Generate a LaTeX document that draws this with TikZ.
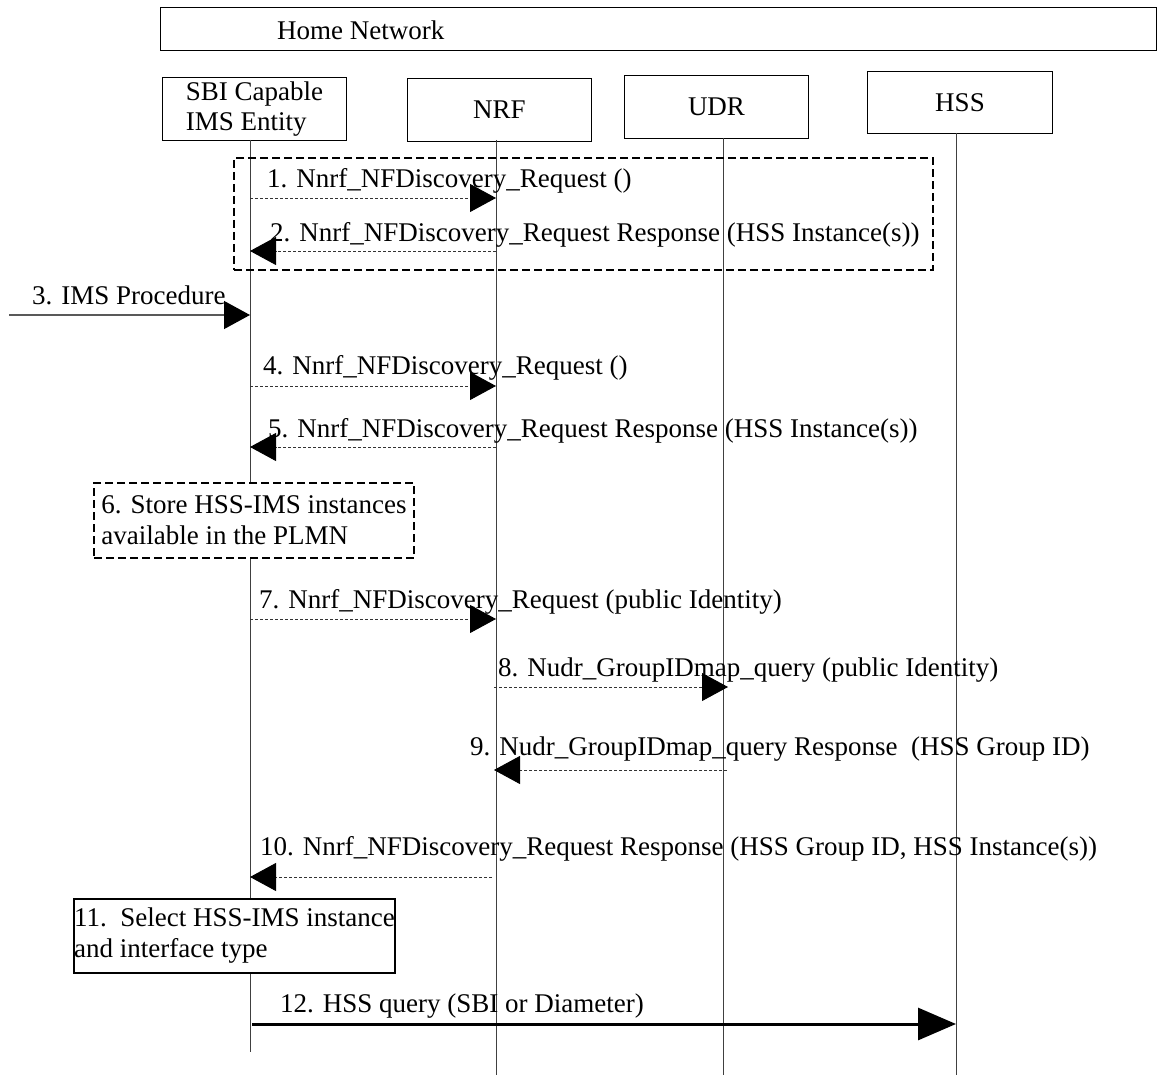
\documentclass[tikz,border=0pt]{standalone}
\usepackage{fontspec}
\setmainfont{Liberation Serif}
\usetikzlibrary{arrows.meta}
\begin{document}
\begin{tikzpicture}[x=1pt,y=-1pt,
  font=\fontsize{27}{31}\selectfont,
  every node/.style={inner sep=0pt},
  entity/.style={draw, line width=1pt, fill=white, minimum height=63pt, minimum width=184pt, align=left},
  life/.style={draw=black!75, line width=1pt},
  msg/.style={draw=black!80, line width=0.9pt, dash pattern=on 3pt off 2pt, -{Triangle[length=26pt,width=28pt,color=black]}},
  solidmsg/.style={draw=black!65, line width=1.3pt, -{Triangle[length=26pt,width=28pt,color=black]}},
  bigmsg/.style={line width=3pt, -{Triangle[length=38pt,width=32pt,color=black]}},
  lbl/.style={anchor=base west, inner sep=0pt},
  groupbox/.style={draw, line width=2pt, dash pattern=on 8pt off 4pt},
  notebox/.style={fill=white, align=left, anchor=north west}
]
\useasboundingbox (0,0) rectangle (1157,1075);

% Home network frame
\node (home) [draw, line width=1pt, anchor=north west, minimum width=996pt, minimum height=43pt] at (160,7) {};
\node[lbl] (homelbl) at (277,40) {Home Network};

% entities
\node (sbi) [entity, anchor=north west] at (162,77) {SBI Capable\\[-1pt]IMS Entity};
\node (nrf) [entity, anchor=north west] at (407,78) {NRF};
\node (udr) [entity, anchor=north west] at (624,75) {UDR};
\node (hss) [entity, anchor=north west, minimum width=185pt, minimum height=62pt] at (867,71) {HSS};

% lifelines
\coordinate (sTop) at (250,140); \coordinate (sBot) at (250,1052);
\coordinate (nTop) at (496,140); \coordinate (nBot) at (496,1075);
\coordinate (uTop) at (723,138); \coordinate (uBot) at (723,1075);
\coordinate (hTop) at (956,133); \coordinate (hBot) at (956,1075);
\draw[life] (sTop) -- (sBot);
\draw[life] (nTop) -- (nBot);
\draw[life] (uTop) -- (uBot);
\draw[life] (hTop) -- (hBot);

% optional group box
\node (grp) [groupbox, anchor=north west, minimum width=699pt, minimum height=112pt] at (233,157) {};

% 1
\coordinate (m1s) at (250,198); \coordinate (m1e) at (496,198);
\draw[msg] (m1s) -- (m1e);
\node[lbl] (l1) at (267,188) {1. Nnrf\_NFDiscovery\_Request ()};
% 2
\coordinate (m2s) at (496,251); \coordinate (m2e) at (250,251);
\draw[msg] (m2s) -- (m2e);
\node[lbl] (l2) at (270,242) {2. Nnrf\_NFDiscovery\_Request Response (HSS Instance(s))};
% 3
\coordinate (m3s) at (9,315); \coordinate (m3e) at (250,315);
\draw[solidmsg] (m3s) -- (m3e);
\node[lbl] (l3) at (32,305) {3. IMS Procedure};
% 4
\coordinate (m4s) at (250,386); \coordinate (m4e) at (496,386);
\draw[msg] (m4s) -- (m4e);
\node[lbl] (l4) at (263,374) {4. Nnrf\_NFDiscovery\_Request ()};
% 5
\coordinate (m5s) at (496,447); \coordinate (m5e) at (250,447);
\draw[msg] (m5s) -- (m5e);
\node[lbl] (l5) at (268,437) {5. Nnrf\_NFDiscovery\_Request Response (HSS Instance(s))};
% 6
\node (n6) [notebox, groupbox, minimum width=320pt, minimum height=75pt] at (93,482) {6. Store HSS-IMS instances\\available in the PLMN};
% 7
\coordinate (m7s) at (250,619); \coordinate (m7e) at (496,619);
\draw[msg] (m7s) -- (m7e);
\node[lbl] (l7) at (259,608) {7. Nnrf\_NFDiscovery\_Request (public Identity)};
% 8
\coordinate (m8s) at (494,687); \coordinate (m8e) at (728,687);
\draw[msg] (m8s) -- (m8e);
\node[lbl] (l8) at (498,676) {8. Nudr\_GroupIDmap\_query (public Identity)};
% 9
\coordinate (m9s) at (727,770); \coordinate (m9e) at (494,770);
\draw[msg] (m9s) -- (m9e);
\node[lbl] (l9) at (470,755) {9. Nudr\_GroupIDmap\_query Response\ \ (HSS Group ID)};
% 10
\coordinate (m10s) at (492,877); \coordinate (m10e) at (250,877);
\draw[msg] (m10s) -- (m10e);
\node[lbl] (l10) at (260,855) {10. Nnrf\_NFDiscovery\_Request Response (HSS Group ID, HSS Instance(s))};
% 11
\node (n11) [notebox, draw, line width=2pt, minimum width=321pt, minimum height=74pt] at (73,898) {11.\ \ Select HSS-IMS instance\\and interface type};
% 12
\coordinate (m12s) at (252,1024); \coordinate (m12e) at (956,1024);
\draw[bigmsg] (m12s) -- (m12e);
\node[lbl] (l12) at (280,1012) {12. HSS query (SBI or Diameter)};
\end{tikzpicture}
\end{document}
